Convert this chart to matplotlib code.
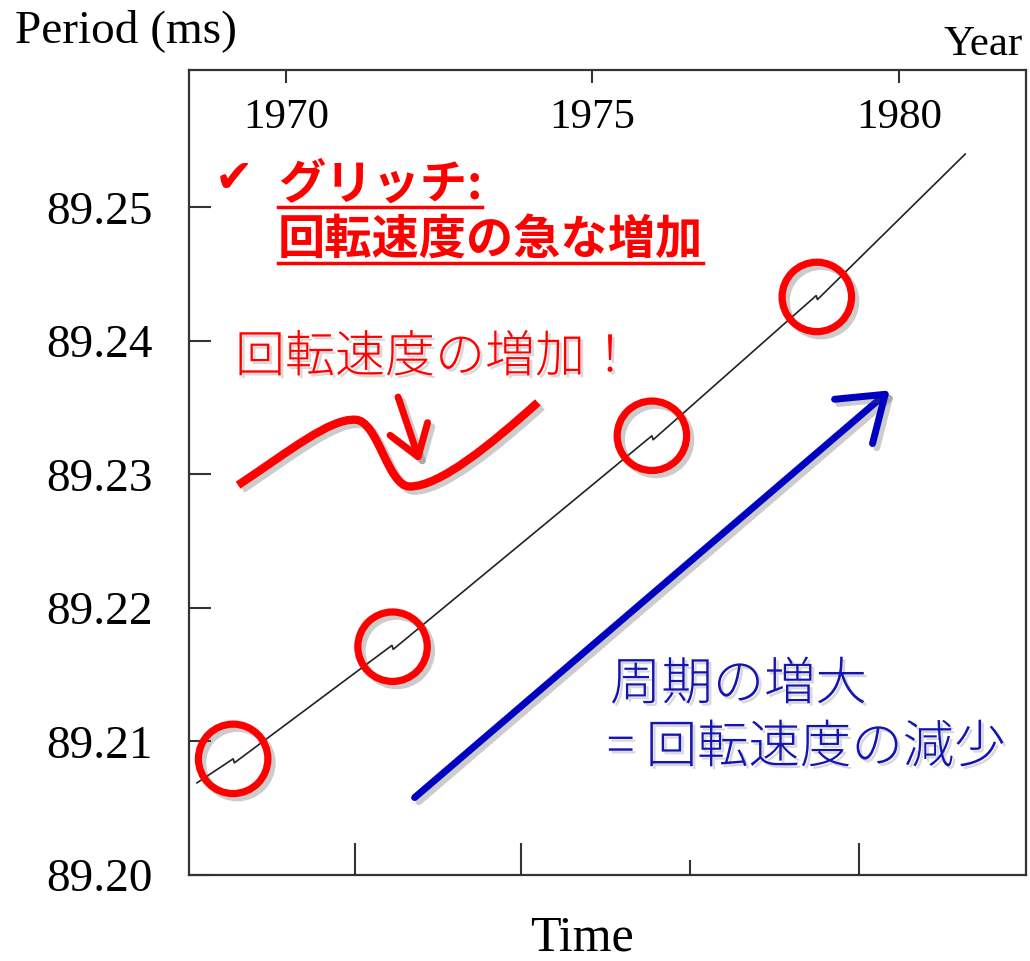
import numpy as np
import matplotlib
matplotlib.use('Agg')
import matplotlib.pyplot as plt
from matplotlib import patheffects as pe
from matplotlib.path import Path
from matplotlib.patches import PathPatch
from matplotlib.lines import Line2D
from matplotlib.transforms import IdentityTransform

# pulsar period (year, ms); each glitch = small drop
years = [1968.55, 1969.14, 1969.16, 1971.73, 1971.75, 1975.97, 1975.99, 1978.65, 1978.67, 1981.08]
period = [89.2069, 89.2087, 89.2084, 89.2172, 89.2169, 89.2329, 89.2326, 89.2434, 89.2431, 89.2540]

glitch_years = [1969.14, 1971.74, 1975.97, 1978.66]
glitch_period = [89.2087, 89.2171, 89.2329, 89.2433]

top_ticks = [1970, 1975, 1980]
bottom_ticks = [1971.12, 1973.83, 1979.35]
bottom_short = [1976.59]
y_ticks = [89.20, 89.21, 89.22, 89.23, 89.24, 89.25]

# hand-drawn annotations, in data coords
wave = [(1969.22, 89.2292), (1970.07, 89.2318), (1970.72, 89.2342), (1971.13, 89.2341),
        (1971.50, 89.2341), (1971.66, 89.2291), (1972.02, 89.2291),
        (1972.51, 89.2291), (1973.33, 89.2322), (1974.11, 89.2354)]
red_arrow = [(1971.83, 89.2358), (1972.19, 89.2309)]
blue_arrow = [(1972.10, 89.2058), (1979.85, 89.2363)]

RED = '#ff0000'
BLUE = '#0000c0'
BLUE_TXT = '#1414b0'
SERIF = 'Liberation Serif'
JP = ['Noto Sans CJK JP', 'DejaVu Sans']

fig = plt.figure(figsize=(10.3, 9.61), dpi=100)
ax = fig.add_axes([0.1835, 0.0895, 0.8125, 0.8377])
ax.set_xlim(1968.42, 1982.07)
ax.set_ylim(89.20, 89.2603)

for s in ax.spines.values():
    s.set_linewidth(1.6)
    s.set_color('#333333')

ax.plot(years, period, color='#222222', lw=1.2)

line_shadow = [pe.SimpleLineShadow(offset=(3, -3), shadow_color='0.35', alpha=0.3), pe.Normal()]
text_shadow = [pe.withSimplePatchShadow(offset=(2, -2), shadow_rgbFace='0.4', alpha=0.25)]

ax.plot(glitch_years, glitch_period, ls='none', marker='o', ms=50, mfc='none',
        mec=RED, mew=5.2, path_effects=line_shadow)

# y axis
ax.set_yticks(y_ticks)
ax.set_yticklabels([f'{v:.2f}' for v in y_ticks], fontsize=34, family=SERIF)
ax.tick_params(axis='y', direction='in', length=16, width=1.5, pad=26, color='#333333')

# bottom ticks (unlabelled)
ax.set_xticks(bottom_ticks)
ax.set_xticks(bottom_short, minor=True)
ax.set_xticklabels([])
ax.tick_params(axis='x', which='major', direction='in', length=23, width=1.5, color='#333333')
ax.tick_params(axis='x', which='minor', direction='in', length=11, width=1.5, color='#333333')

# top year ticks, labels inside
top = ax.secondary_xaxis('top')
top.set_xticks(top_ticks)
top.set_xticklabels([str(y) for y in top_ticks], fontsize=31, family=SERIF)
top.tick_params(direction='in', length=9.5, width=1.5, pad=-48, color='#333333')
top.spines['top'].set_visible(False)

fig.text(0.0146, 0.9563, 'Period (ms)', fontsize=34, family=SERIF, va='baseline')
fig.text(0.993, 0.9428, 'Year', fontsize=31, family=SERIF, va='baseline', ha='right')
fig.text(0.565, 0.011, 'Time', fontsize=36, family=SERIF, va='baseline', ha='center')

# red wave drawn as bezier curves
codes = [Path.MOVETO] + [Path.CURVE4] * 9
wave_path = Path(wave, codes)
ax.add_patch(PathPatch(wave_path, fc='none', ec=RED, lw=6, capstyle='butt',
                       path_effects=line_shadow))

ax.annotate('', xy=red_arrow[1], xytext=red_arrow[0],
            arrowprops=dict(arrowstyle='->,head_length=1.4,head_width=0.95', lw=5,
                            color=RED, shrinkA=0, shrinkB=0, mutation_scale=15,
                            path_effects=line_shadow))
ax.annotate('', xy=blue_arrow[1], xytext=blue_arrow[0],
            arrowprops=dict(arrowstyle='->,head_length=1.5,head_width=1.05', lw=5,
                            color=BLUE, shrinkA=0, shrinkB=0, mutation_scale=20,
                            path_effects=line_shadow))

# texts
ax.text(0.054, 0.864, '\u2714', color=RED, fontsize=33, family='DejaVu Sans',
        ha='center', va='center', transform=ax.transAxes)
t1 = ax.text(0.1063, 0.857, 'グリッチ:', color=RED, fontsize=34, family=JP,
             weight='bold', va='center', transform=ax.transAxes)
t2 = ax.text(0.1063, 0.7876, '回転速度の急な増加', color=RED, fontsize=34, family=JP,
             weight='bold', va='center', transform=ax.transAxes)
ax.text(0.055, 0.6422, '回転速度の増加！', color=RED, fontsize=36, family=JP,
        weight='light', va='center', transform=ax.transAxes, path_effects=text_shadow)
ax.text(0.503, 0.236, '周期の増大', color=BLUE_TXT, fontsize=37, family=JP,
        weight='light', va='center', transform=ax.transAxes, path_effects=text_shadow)
ax.text(0.4994, 0.1578, '= 回転速度の減少', color=BLUE_TXT, fontsize=37, family=JP,
        weight='light', va='center', transform=ax.transAxes, path_effects=text_shadow)

# underline the bold heading
fig.canvas.draw()
r = fig.canvas.get_renderer()
for t in (t1, t2):
    bb = t.get_window_extent(r)
    fig.add_artist(Line2D([bb.x0, bb.x1], [bb.y0 + 2, bb.y0 + 2], color=RED, lw=2.5,
                          transform=IdentityTransform()))

fig.savefig('out.png', dpi=100)
